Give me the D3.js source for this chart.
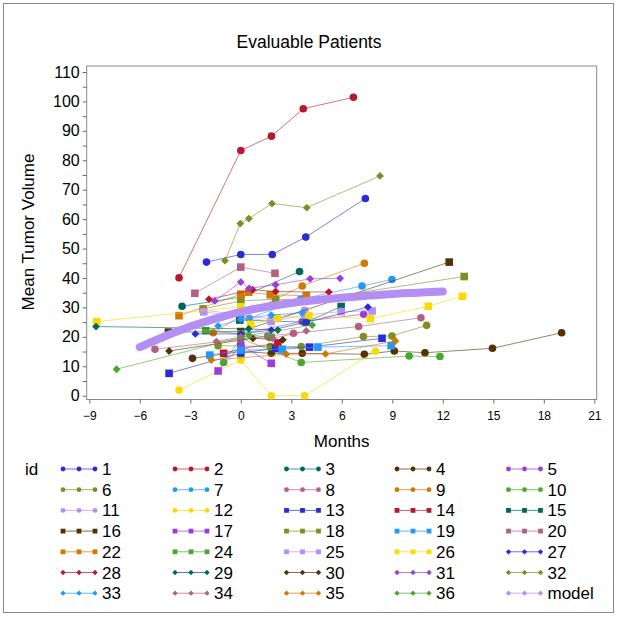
<!DOCTYPE html>
<html><head><meta charset="utf-8">
<script src="https://cdn.jsdelivr.net/npm/d3@7"></script>
<style>body{margin:0;background:#fff} svg{display:block} text{font-family:"Liberation Sans",Arial,sans-serif;fill:#000}</style>
</head><body><svg id="c" width="618" height="618"></svg>
<script>
// ---- data: [months, mean tumor volume] per patient id ----
const id1  = [[-2.04,45.4],[0,48],[1.87,48],[3.86,53.9],[7.4,67]];
const id2  = [[-3.67,40.1],[0,83.3],[1.82,88.2],[3.71,97.5],[6.69,101.4]];
const id3  = [[-3.49,30.4],[0,33.5],[3.49,42.2]];
const id4  = [[-2.87,12.7],[0,15],[1.81,14.4],[3.65,14.4],[7.34,14.1],[9.12,15.2],[10.94,14.6],[14.95,16.1],[19.06,21.4]];
const id5  = [[0,21],[3.65,25.2],[7.3,27.7]];
const id6  = [[-1.35,17],[1.75,16.7],[3.59,16.7],[7.28,20.1],[8.98,20.3],[11.04,23.9]];
const id7  = [[0.5,26.3],[3.55,32.8],[7.2,37.3],[8.98,39.5]];
const id8  = [[-5.1,15.8],[1.6,20.3],[3.13,21.2],[7.0,23.5],[10.7,26.5]];
const id9  = [[-1.64,21.4],[0,27],[3.65,37.3],[7.34,45]];
const id10 = [[-1.02,11.3],[0,19.5],[3.59,11.3],[10.0,13.5],[11.83,13.3]];
const id11 = [[-2.24,29.1],[0,27.5],[1.81,26],[3.79,29]];
const id12 = [[-3.67,1.9],[0,12.1],[1.81,0],[3.79,0],[8.0,15.1]];
const id13 = [[-4.26,7.6],[0,14.5],[2.07,16.1],[4.08,16.5],[8.39,19.5]];
const id14 = [[-1.02,14.4],[0,16],[2.2,17.8]];
const id15 = [[-0.06,25.7],[3.89,25],[5.96,30.3]];
const id16 = [[-4.3,21.6],[0,21.8],[12.38,45.4]];
const id17 = [[-1.35,8.4],[0,17.2],[1.81,11]];
const id18 = [[-2.24,29.5],[0,32.2],[2.07,32.8],[3.89,32.3],[13.27,40.5]];
const id19 = [[-1.84,13.8],[0,15.5],[2.46,15.8],[4.58,16.5],[8.93,17]];
const id20 = [[-2.73,34.8],[0,43.7],[2.03,41.6]];
const id22 = [[-3.67,27.2],[0,34.5],[0.47,35.2],[1.75,34.3],[3.89,34]];
const id24 = [[-2.08,22.1],[0,21],[1.8,19.8]];
const id25 = [[-2.2,28.5],[1.81,25.2],[3.79,27.4],[5.96,28.6],[7.8,28.8]];
const id26 = [[-8.56,25.2],[0,30.2],[0.58,24.3],[2.17,26.5],[4.04,27.2],[7.7,26.2],[11.14,30.4],[13.17,33.8]];
const id27 = [[-2.7,21],[0,21],[1.81,22.3],[3.9,25],[7.55,30.1]];
const id28 = [[-1.89,32.8],[0.7,36],[2.07,35.4],[5.23,35.2]];
const id29 = [[-8.6,23.5],[0.47,22.7],[2.2,22.3]];
const id30 = [[-4.26,15.2],[0.72,19.5],[2.5,19]];
const id31 = [[-1.55,32.2],[0,38.6],[0.5,36.5],[2.07,37.7],[4.12,39.7],[5.9,39.9]];
const id32 = [[-0.94,45.9],[-0.03,58.5],[0.48,60.2],[1.85,65.3],[3.92,63.9],[8.27,74.7]];
const id33 = [[-1.35,23.7],[0,26],[1.81,27.4],[3.65,28.2]];
const id34 = [[-1.45,18.4],[0,20],[1.9,19.5],[3.89,22]];
const id35 = [[-1.75,12.1],[2.7,14.1],[5.03,14.2],[9.18,18.6]];
const id36 = [[-7.38,9],[0.5,20.5],[4.24,24]];
const model = [[-6,16.5],[-4.5,20.2],[-3,23.5],[-1.5,26.2],[0,28.5],[1.5,30.2],[3,31.5],[4.5,32.5],[6,33.3],[7.5,34],[9,34.6],[10.5,35],[12,35.4]];

const idLabels = ["1","2","3","4","5","6","7","8","9","10","11","12","13","14","15","16","17","18","19","20","22","24","25","26","27","28","29","30","31","32","33","34","35","36","model"];
const idSeries = [id1,id2,id3,id4,id5,id6,id7,id8,id9,id10,id11,id12,id13,id14,id15,id16,id17,id18,id19,id20,id22,id24,id25,id26,id27,id28,id29,id30,id31,id32,id33,id34,id35,id36,model];
const palette = ["#2B2BD8","#B8172F","#01665E","#543005","#9D3CDB","#7F8E1F","#2597FA","#B26084","#D17800","#47A82A","#B38EF3","#F9DA04"];
const shapeCycle = ["circle","square","diamond"];
const xTicks = [-9,-6,-3,0,3,6,9,12,15,18,21];
const yTicks = [0,5,10,15,20,25,30,35,40,45,50,55,60,65,70,75,80,85,90,95,100,105,110];

// ---- drawing ----
const svg = d3.select("#c");
const W = 618, H = 618;
const frame = {l:86.7, t:66, r:596.7, b:399.5};
const x = d3.scaleLinear().domain([-9,21]).range([89.3,594.3]);
const y = d3.scaleLinear().domain([0,110]).range([395.7,72]);

svg.append("rect").attr("x",0).attr("y",0).attr("width",W).attr("height",H).attr("fill","#fff");
svg.append("rect").attr("x",3.5).attr("y",3.5).attr("width",610).attr("height",609)
  .attr("fill","none").attr("stroke","#8a8a8a").attr("stroke-width",1);

svg.append("text").attr("x",309).attr("y",48).attr("text-anchor","middle")
  .attr("font-size",17.5).text("Evaluable Patients");

// frame
svg.append("rect").attr("x",frame.l).attr("y",frame.t).attr("width",frame.r-frame.l).attr("height",frame.b-frame.t)
  .attr("fill","none").attr("stroke","#8a8a8a").attr("stroke-width",1);

// axes
const gx = svg.append("g").attr("transform",`translate(0,${frame.b})`)
  .call(d3.axisBottom(x).tickValues(xTicks).tickSize(4).tickSizeOuter(0).tickPadding(8).tickFormat(d3.format("d")));
gx.select(".domain").remove();
gx.selectAll("line").attr("stroke","#6a6a6a");
gx.selectAll("text").attr("font-size",12).attr("font-family","Liberation Sans, Arial, sans-serif");

const gy = svg.append("g").attr("transform",`translate(${frame.l},0)`)
  .call(d3.axisLeft(y).tickValues(yTicks).tickSize(4).tickSizeOuter(0).tickPadding(3)
    .tickFormat(d => d % 10 === 0 ? d : ""));
gy.select(".domain").remove();
gy.selectAll("line").attr("stroke","#6a6a6a");
gy.selectAll("text").attr("font-size",16).attr("font-family","Liberation Sans, Arial, sans-serif");

svg.append("text").attr("x",(frame.l+frame.r)/2).attr("y",447).attr("text-anchor","middle")
  .attr("font-size",17).text("Months");
svg.append("text").attr("transform","translate(34,232) rotate(-90)").attr("text-anchor","middle")
  .attr("font-size",17).text("Mean Tumor Volume");

function symbolFor(shape, r) {
  if (shape === "circle") return d3.symbol().type(d3.symbolCircle).size(Math.PI*r*r)();
  if (shape === "square") return `M${-r},${-r}H${r}V${r}H${-r}Z`;
  const q = r * 1.15;
  return `M0,${-q}L${q},0L0,${q}L${-q},0Z`;
}
const markerR = {circle:3.8, square:3.8, diamond:3.4};

const line = d3.line().x(d => x(d[0])).y(d => y(d[1]));
const plot = svg.append("g");

idSeries.forEach((s, g) => {
  const col = palette[g % 12];
  const shape = shapeCycle[Math.floor(g / 12)];
  if (idLabels[g] === "model") return;
  plot.append("path").datum(s).attr("d", line).attr("fill","none")
    .attr("stroke", col).attr("stroke-opacity",0.6).attr("stroke-width",1);
  plot.selectAll(null).data(s).enter().append("path")
    .attr("d", symbolFor(shape, markerR[shape]))
    .attr("transform", d => `translate(${x(d[0])},${y(d[1])})`)
    .attr("fill", col);
});

// model band drawn last
{
  const g = idLabels.indexOf("model");
  const col = palette[g % 12];
  const curve = d3.line().x(d => x(d[0])).y(d => y(d[1])).curve(d3.curveMonotoneX);
  plot.append("path").datum(idSeries[g]).attr("d", curve).attr("fill","none")
    .attr("stroke", col).attr("stroke-width",8).attr("stroke-linecap","round");
}

// legend
const legX = [63, 175, 286.5, 397, 508.5];
const legY0 = 469, legDy = 20.7;
svg.append("text").attr("x",25).attr("y",legY0+6).attr("font-size",17).text("id");
idLabels.forEach((lab, g) => {
  const col = palette[g % 12];
  const shape = shapeCycle[Math.floor(g / 12)];
  const cx = legX[g % 5], cy = legY0 + Math.floor(g / 5) * legDy;
  const lg = svg.append("g");
  lg.append("line").attr("x1",cx).attr("x2",cx+32).attr("y1",cy).attr("y2",cy)
    .attr("stroke",col).attr("stroke-opacity",0.7).attr("stroke-width",1);
  [0,16,32].forEach(dx => {
    lg.append("path").attr("d", symbolFor(shape, shape==="diamond"?2.3:2.4))
      .attr("transform",`translate(${cx+dx},${cy})`).attr("fill",col);
  });
  lg.append("text").attr("x",cx+39).attr("y",cy+6).attr("font-size",17).text(lab);
});
</script></body></html>
